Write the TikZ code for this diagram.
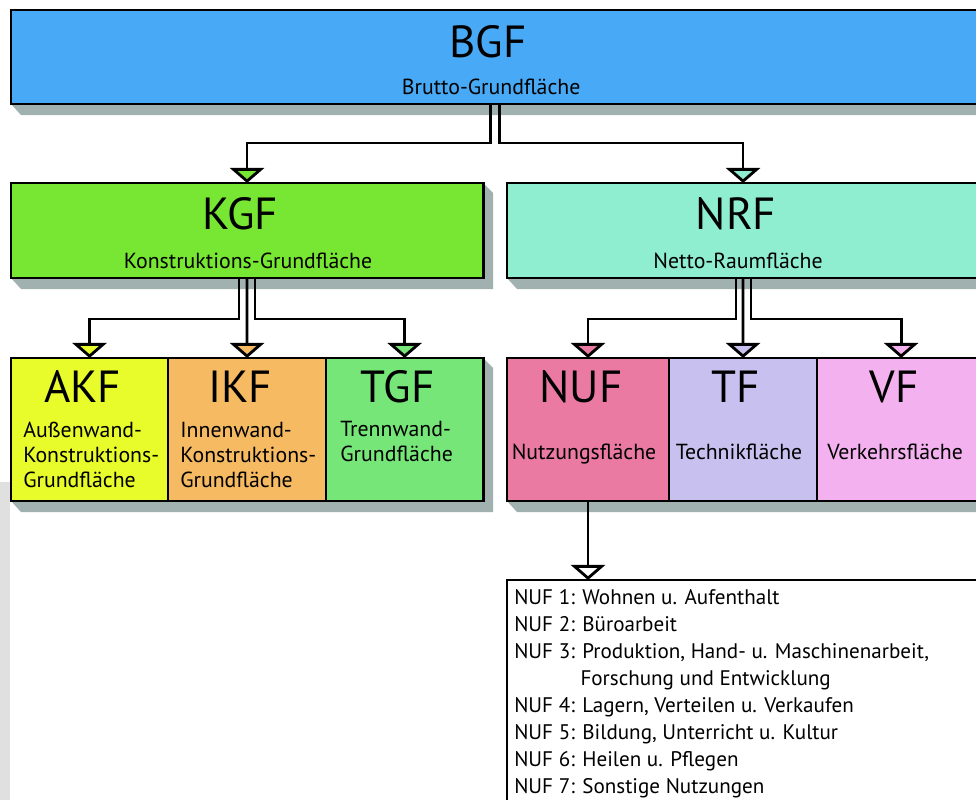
\documentclass[tikz,border=0pt]{standalone}
\usepackage{fontspec}
\setmainfont{PT Sans}
\usetikzlibrary{arrows.meta,positioning,backgrounds}

\definecolor{bgfblau}{HTML}{48AAF6}
\definecolor{kgfgruen}{HTML}{77E733}
\definecolor{nrftuerkis}{HTML}{8FEDD0}
\definecolor{akfgelb}{HTML}{E8FB2B}
\definecolor{ikforange}{HTML}{F5BA62}
\definecolor{tgfgruen}{HTML}{76E679}
\definecolor{nufrosa}{HTML}{EA7AA2}
\definecolor{tflila}{HTML}{C8C1EF}
\definecolor{vfpink}{HTML}{F4B1EF}
\definecolor{schattengrau}{HTML}{A0B1AF}

\tikzset{
	box/.style={draw, line width=2pt, outer sep=0pt, inner sep=0pt, anchor=north west},
	titel/.style={font=\fontsize{32}{36}\selectfont, anchor=base, inner sep=0pt},
	untertitel/.style={font=\fontsize{15.5}{18}\selectfont, anchor=base, inner sep=0pt},
	mehrzeilig/.style={font=\fontsize{15.5}{18.1}\selectfont, anchor=base west, align=left, inner sep=0pt},
	conn/.style={line width=2pt},
	spitze/.style={-{Triangle[width=0.85cm, length=0.375cm, fill=#1]}},
	schatten/.style={fill=schattengrau}
}

% Schatten unter einer Box bzw. einer Boxreihe
\newcommand{\boxschatten}[2]{\fill[schatten] (#1.south west) -- ++(10,11) -| ([shift={(10,10)}]#2.north east) -- (#2.north east) -- cycle;}

\begin{document}
\begin{tikzpicture}[x=0.025cm, y=-0.025cm]
	\useasboundingbox (0,0) rectangle (976,800);
	\fill[black!12] (0,482) rectangle (10,800);
	
	% Ebene 1 und 2
	\node[box, fill=bgfblau, minimum width=24.2cm, minimum height=2.35cm] (bgf) at (11,10) {};
	\node[box, fill=kgfgruen, minimum width=11.8cm, minimum height=2.375cm] (kgf) at (11,183) {};
	\node[box, fill=nrftuerkis, minimum width=11.8cm, minimum height=2.375cm] (nrf) at (507,183) {};
	
	% Ebene 3
	\node[box, fill=akfgelb, minimum width=3.925cm, minimum height=3.575cm] (akf) at (11,358) {};
	\node[box, fill=ikforange, minimum width=3.95cm, minimum height=3.575cm, right=0pt of akf] (ikf) {};
	\node[box, fill=tgfgruen, minimum width=3.925cm, minimum height=3.575cm, right=0pt of ikf] (tgf) {};
	\node[box, fill=nufrosa, minimum width=4.05cm, minimum height=3.575cm] (nuf) at (507,358) {};
	\node[box, fill=tflila, minimum width=3.7cm, minimum height=3.575cm, right=0pt of nuf] (tf) {};
	\node[box, fill=vfpink, minimum width=4.2cm, minimum height=3.575cm, right=0pt of tf] (vf) {};
	
	\node[box, fill=white, minimum width=12cm, minimum height=6cm] (liste) at (507,580) {};
	
	\begin{pgfonlayer}{background}
		\boxschatten{bgf}{bgf}
		\boxschatten{kgf}{kgf}
		\boxschatten{nrf}{nrf}
		\boxschatten{akf}{tgf}
		\boxschatten{nuf}{vf}
		\boxschatten{liste}{liste}
	\end{pgfonlayer}
	
	% Beschriftungen
	\node[titel] (bgf-t) at ([shift={(-7,48)}]bgf.north) {BGF};
	\node[untertitel] (bgf-u) at ([shift={(-4,85)}]bgf.north) {Brutto-Grundfläche};
	\node[titel] (kgf-t) at ([shift={(-7,47)}]kgf.north) {KGF};
	\node[untertitel] (kgf-u) at ([shift={(1,86)}]kgf.north) {Konstruktions-Grundfläche};
	\node[titel] (nrf-t) at ([shift={(-7,47)}]nrf.north) {NRF};
	\node[untertitel] (nrf-u) at ([shift={(-5,86)}]nrf.north) {Netto-Raumfläche};
	
	\node[titel] (akf-t) at ([shift={(-7,45)}]akf.north) {AKF};
	\node[titel] (ikf-t) at ([shift={(-7,45)}]ikf.north) {IKF};
	\node[titel] (tgf-t) at ([shift={(-7,45)}]tgf.north) {TGF};
	\node[mehrzeilig] (akf-u) at ([shift={(12,130)}]akf.north west) {Außenwand-\\Konstruktions-\\Grundfläche};
	\node[mehrzeilig] (ikf-u) at ([shift={(12,130)}]ikf.north west) {Innenwand-\\Konstruktions-\\Grundfläche};
	\node[mehrzeilig] (tgf-u) at ([shift={(14,104)}]tgf.north west) {Trennwand-\\Grundfläche};
	
	\node[titel] (nuf-t) at ([shift={(-7,45)}]nuf.north) {NUF};
	\node[titel] (tf-t) at ([shift={(-7,45)}]tf.north) {TF};
	\node[titel] (vf-t) at ([shift={(-7,45)}]vf.north) {VF};
	\node[untertitel] (nuf-u) at ([shift={(-4,102)}]nuf.north) {Nutzungsfläche};
	\node[untertitel] (tf-u) at ([shift={(-4,102)}]tf.north) {Technikfläche};
	\node[untertitel] (vf-u) at ([shift={(-6,102)}]vf.north) {Verkehrsfläche};
	
	\node[mehrzeilig, font=\fontsize{15}{19.1}\selectfont] (liste-t) at ([shift={(7,213)}]liste.north west) {NUF 1: Wohnen u. Aufenthalt\\
		NUF 2: Büroarbeit\\
		NUF 3: Produktion, Hand- u. Maschinenarbeit,\\
		\phantom{NUF 3:} Forschung und Entwicklung\\
		NUF 4: Lagern, Verteilen u. Verkaufen\\
		NUF 5: Bildung, Unterricht u. Kultur\\
		NUF 6: Heilen u. Pflegen\\
		NUF 7: Sonstige Nutzungen};
	
	% Verbindungen
	\draw[conn, spitze=kgfgruen] ([shift={(-4.5,0)}]bgf.south) -- ++(0,39) -| (kgf.north);
	\draw[conn, spitze=nrftuerkis] ([shift={(4.5,0)}]bgf.south) -- ++(0,39) -| (nrf.north);
	
	\draw[conn, spitze=akfgelb] ([shift={(-8,0)}]kgf.south) -- ++(0,41) -| (akf.north);
	\draw[conn, spitze=ikforange] (kgf.south) -- (ikf.north);
	\draw[conn, spitze=tgfgruen] ([shift={(8,0)}]kgf.south) -- ++(0,41) -| (tgf.north);
	
	\draw[conn, spitze=nufrosa] ([shift={(-7,0)}]nrf.south) -- ++(0,41) -| (nuf.north);
	\draw[conn, spitze=tflila] (nrf.south) -- (tf.north);
	\draw[conn, spitze=vfpink] ([shift={(8,0)}]nrf.south) -- ++(0,41) -| (vf.north);
	
	\draw[conn, spitze=white] (nuf.south) -- (nuf.south |- liste.north);
\end{tikzpicture}
\end{document}
